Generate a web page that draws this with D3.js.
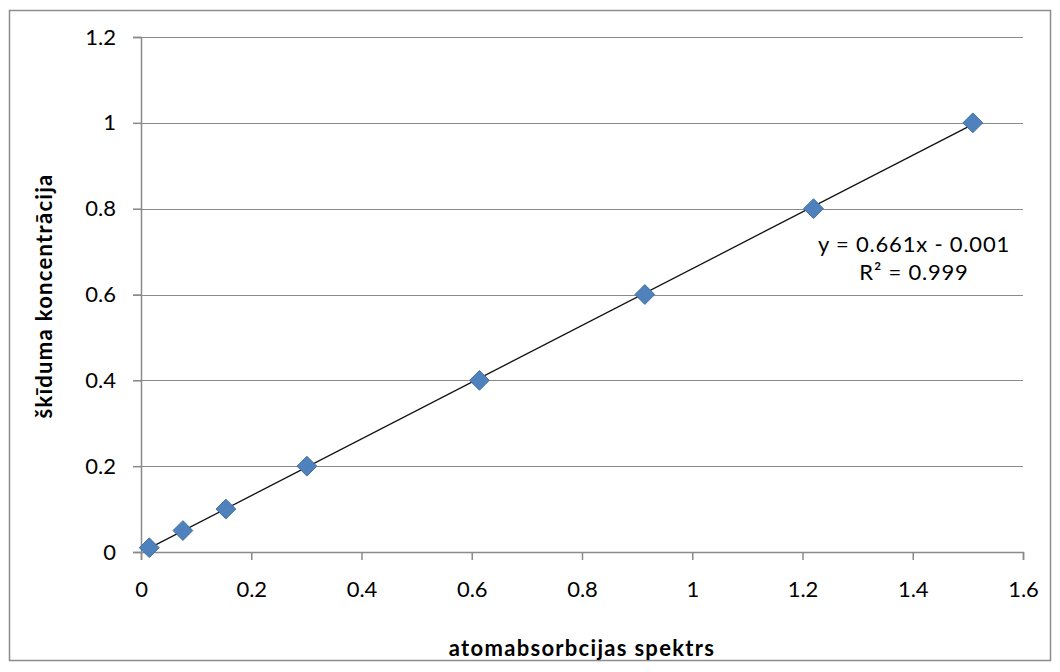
<!DOCTYPE html>
<html>
<head>
<meta charset="utf-8">
<script src="https://cdn.jsdelivr.net/npm/d3@7"></script>
<style>
  body { margin: 0; background: #fff; }
  text { font-family: Lato, "Open Sans", sans-serif; fill: #000; }
</style>
</head>
<body>
<div id="chart"></div>
<script>
//Data
var absorbance = [0.015, 0.076, 0.154, 0.301, 0.614, 0.914, 1.22, 1.509];
var concentration = [0.01, 0.05, 0.1, 0.2, 0.4, 0.6, 0.8, 1.0];
var xTicks = [0, 0.2, 0.4, 0.6, 0.8, 1, 1.2, 1.4, 1.6];
var yTicks = [0, 0.2, 0.4, 0.6, 0.8, 1, 1.2];
var slope = 0.661, intercept = -0.001;
var eqLines = ["y = 0.661x - 0.001", "R² = 0.999"];

var W = 1060, H = 672;
var margin = { top: 37, right: 37, bottom: 120, left: 141 };
var width = W - margin.left - margin.right;
var height = H - margin.top - margin.bottom;

var svgRoot = d3.select("#chart").append("svg")
	.attr("width", W)
	.attr("height", H);

//Chart border
svgRoot.append("rect")
	.attr("x", 9.5).attr("y", 10.5)
	.attr("width", 1041).attr("height", 650)
	.style("fill", "none")
	.style("stroke", "#8c8c8c")
	.style("stroke-width", 1.5);

var svg = svgRoot.append("g")
	.attr("transform", "translate(" + margin.left + "," + margin.top + ")");

var x = d3.scaleLinear().domain([0, 1.6]).range([0, width]);
var y = d3.scaleLinear().domain([0, 1.2]).range([height, 0]);

//Gridlines
svg.selectAll(".grid")
	.data(yTicks.filter(function(d) { return d > 0; }))
	.enter().append("line")
	.attr("class", "grid")
	.attr("x1", -8).attr("x2", width)
	.attr("y1", function(d) { return Math.round(y(d)) + 0.5; })
	.attr("y2", function(d) { return Math.round(y(d)) + 0.5; })
	.style("stroke", "#8a8a8a")
	.style("stroke-width", 1);

//Axes
var yAxis = svg.append("g")
	.call(d3.axisLeft(y).tickValues(yTicks).tickSize(8).tickPadding(17)
		.tickFormat(function(d) { return d3.format("")(d); }));
var xAxis = svg.append("g")
	.attr("transform", "translate(0," + height + ")")
	.call(d3.axisBottom(x).tickValues(xTicks).tickSize(8).tickPadding(21)
		.tickFormat(function(d) { return d3.format("")(d); }));

[xAxis, yAxis].forEach(function(a) {
	a.select(".domain").style("stroke", "#8a8a8a").style("stroke-width", 1.5);
	a.selectAll(".tick line").style("stroke", "#8a8a8a").style("stroke-width", 1.5);
	a.selectAll(".tick text")
		.style("font-family", "Lato, 'Open Sans', sans-serif")
		.style("font-size", "22px")
		.style("fill", "#000");
});

//Trend line
var xMin = d3.min(absorbance), xMax = d3.max(absorbance);
svg.append("line")
	.attr("x1", x(xMin)).attr("y1", y(slope * xMin + intercept))
	.attr("x2", x(xMax)).attr("y2", y(slope * xMax + intercept))
	.style("stroke", "#111")
	.style("stroke-width", 1.3);

//Diamond markers
var diamond = d3.symbol().type(d3.symbolDiamond2).size(250);
svg.selectAll(".point")
	.data(absorbance)
	.enter().append("path")
	.attr("class", "point")
	.attr("d", diamond)
	.attr("transform", function(d, i) { return "translate(" + x(d) + "," + y(concentration[i]) + ")"; })
	.style("fill", "#4f81bd")
	.style("stroke", "#41719f")
	.style("stroke-width", 1);

//Equation label
svgRoot.append("text")
	.attr("y", 252)
	.attr("text-anchor", "middle")
	.style("font-size", "22px")
	.style("letter-spacing", "0.8px")
	.selectAll("tspan")
	.data(eqLines)
	.enter().append("tspan")
	.attr("x", 914)
	.attr("dy", function(d, i) { return i === 0 ? 0 : 28; })
	.text(function(d) { return d; });

//Axis titles
svgRoot.append("text")
	.attr("x", 582).attr("y", 656)
	.attr("text-anchor", "middle")
	.style("font-size", "22px")
	.style("font-weight", "bold")
	.style("letter-spacing", "1.3px")
	.text("atomabsorbcijas spektrs");

svgRoot.append("text")
	.attr("transform", "translate(52,296) rotate(-90)")
	.attr("text-anchor", "middle")
	.style("font-size", "22px")
	.style("font-weight", "bold")
	.style("letter-spacing", "1.3px")
	.text("škīduma koncentrācija");
</script>
</body>
</html>
